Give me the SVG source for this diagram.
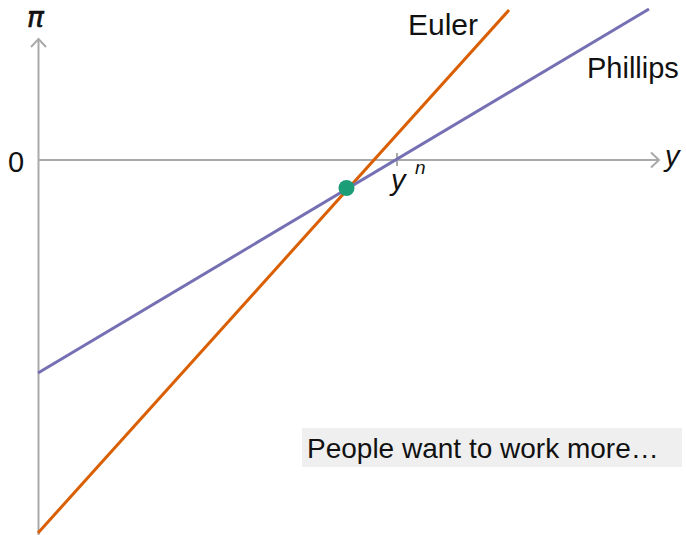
<svg xmlns="http://www.w3.org/2000/svg" width="686" height="535" viewBox="0 0 686 535">
<style>
.axis{stroke:#aaaaaa;stroke-width:2;fill:none}
.lbl{font-family:"Liberation Sans",Arial,sans-serif;fill:#111}
.math{font-family:"Liberation Sans",Arial,sans-serif;font-style:italic;fill:#111}
</style>
<rect width="686" height="535" fill="#ffffff"/>
<g id="axes">
<line class="axis" x1="38.5" y1="535" x2="38.5" y2="39"/>
<polyline class="axis" points="31,47 38.5,39 46,47"/>
<line class="axis" x1="38" y1="160" x2="659" y2="160"/>
<polyline class="axis" points="651,152.5 659,160 651,167.5"/>
<line class="axis" x1="397" y1="153" x2="397" y2="166" stroke-width="1.5"/>
<text x="27" y="27" font-size="28" font-style="italic" font-family="'DejaVu Sans',sans-serif" fill="#111" stroke="#111" stroke-width="0.6">π</text>
<text class="lbl" x="8" y="172" font-size="29">0</text>
<text class="math" x="665" y="166" font-size="29">y</text>
<text class="math" x="391" y="190" font-size="29">y</text>
<text class="math" x="415" y="174" font-size="19">n</text>
</g>
<g id="connectors">
<line id="euler" x1="38" y1="533" x2="509" y2="10" stroke="#d95f02" stroke-width="3"/>
<line id="phillips" x1="38" y1="373" x2="649" y2="9" stroke="#7570b3" stroke-width="3"/>
</g>
<g id="equilibrium">
<circle cx="346.5" cy="188" r="8" fill="#1b9e77"/>
</g>
<g id="label-euler"><text class="lbl" x="408" y="35" font-size="30">Euler</text></g>
<g id="label-phillips"><text class="lbl" x="587" y="78" font-size="29">Phillips</text></g>
<g id="note">
<rect x="302" y="428" width="380" height="39" fill="#efefef"/>
<text class="lbl" x="307" y="458" font-size="28">People want to work more…</text>
</g>
</svg>
